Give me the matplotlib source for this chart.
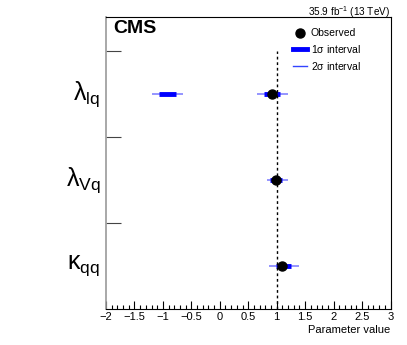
import numpy as np
import matplotlib.pyplot as plt
from matplotlib.lines import Line2D
from matplotlib.ticker import MultipleLocator

plt.rcParams['font.family'] = ['Liberation Sans', 'DejaVu Sans']
plt.rcParams['mathtext.fontset'] = 'custom'
plt.rcParams['mathtext.rm'] = 'Liberation Sans'
plt.rcParams['mathtext.it'] = 'Liberation Sans'
plt.rcParams['mathtext.bf'] = 'Liberation Sans:bold'

# parameters, bottom to top
labels = [r'$\kappa_{\mathrm{qq}}$', r'$\lambda_{\mathrm{Vq}}$', r'$\lambda_{\mathrm{lq}}$']
best_fit = [1.10, 0.99, 0.92]
# 1 sigma intervals (lists of (lo, hi) per parameter)
int_1s = [[(0.98, 1.26)], [(0.88, 1.10)], [(0.78, 1.06), (-1.06, -0.77)]]
# 2 sigma intervals
int_2s = [[(0.86, 1.39)], [(0.83, 1.20)], [(0.65, 1.20), (-1.20, -0.65)]]

fig = plt.figure(figsize=(4.07, 3.45), dpi=100)
ax = fig.add_axes([0.2604, 0.1043, 0.6991, 0.8464])

ypos = np.arange(len(labels)) + 0.5

for y, two, one in zip(ypos, int_2s, int_1s):
    for lo, hi in two:
        ax.plot([lo, hi], [y, y], color='blue', lw=1.3, alpha=0.45, solid_capstyle='butt')
    for lo, hi in one:
        ax.plot([lo, hi], [y, y], color='blue', lw=3.5, solid_capstyle='butt')
ax.plot(best_fit, ypos, 'o', color='black', ms=6.5, zorder=5)

ax.plot([1, 1], [0, 3], color='black', ls=(0, (2, 2)), lw=1.0)

ax.set_xlim(-2, 3)
ax.set_ylim(0, 3.4)
ax.xaxis.set_minor_locator(MultipleLocator(0.1))
ax.set_xticks(np.arange(-2, 3.01, 0.5))
ax.set_xticklabels(['\u22122', '\u22121.5', '\u22121', '\u22120.5', '0', '0.5', '1', '1.5', '2', '2.5', '3'])
ax.tick_params(axis='x', which='major', direction='in', length=6, width=0.8, labelsize=8, pad=2)
ax.tick_params(axis='x', which='minor', direction='in', length=3, width=0.8)
ax.set_yticks([1, 2, 3])
ax.set_yticklabels([])
ax.tick_params(axis='y', which='major', direction='in', length=11, width=0.8, color='#444444')
ax.spines['left'].set_color('#999999')
ax.spines['left'].set_linewidth(1.2)

for y, lab in zip(ypos, labels):
    ax.text(-2.1, y, lab, ha='right', va='center', fontsize=18, transform=ax.transData)

ax.set_xlabel('Parameter value', fontsize=8, ha='right', x=1.0, labelpad=2)

ax.text(0.025, 0.99, 'CMS', transform=ax.transAxes, fontsize=14, fontweight='bold',
        ha='left', va='top')
fig.text(0.9595, 0.965, r'35.9 fb$^{-1}$ (13 TeV)', fontsize=7.2, ha='right', va='center')

handles = [
    Line2D([], [], marker='o', color='black', ls='none', ms=6.5),
    Line2D([], [], color='blue', lw=3.5),
    Line2D([], [], color='#3344ff', lw=1.0),
]
ax.legend(handles, ['Observed', r'1$\sigma$ interval', r'2$\sigma$ interval'],
          loc='upper left', bbox_to_anchor=(0.625, 0.993), frameon=False, fontsize=7.5,
          handlelength=1.3, handletextpad=0.4, labelspacing=0.45)

fig.savefig('out.png', dpi=100)
